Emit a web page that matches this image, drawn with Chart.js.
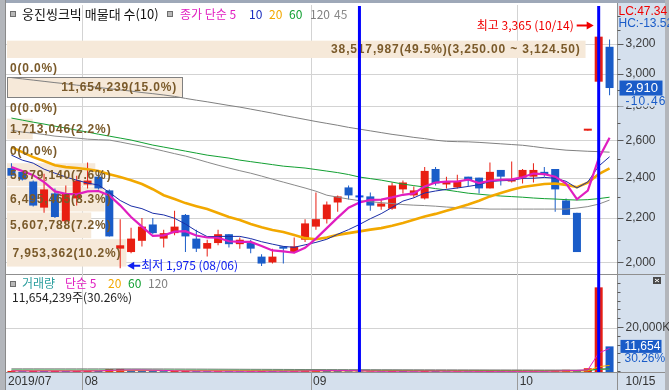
<!DOCTYPE html>
<html>
<head>
<meta charset="utf-8">
<style>html,body{margin:0;padding:0;background:#fff}canvas{display:block}</style>
<script src="https://cdn.jsdelivr.net/npm/chart.js@4.4.1/dist/chart.umd.min.js"></script>
</head>
<body>
<canvas id="chart" width="669" height="390" style="width:669px;height:390px"></canvas>
<script>
"use strict";
// trading days shown
const dates = ['2019/07/23','2019/07/24','2019/07/25','2019/07/26','2019/07/29','2019/07/30','2019/07/31',
  '2019/08/01','2019/08/02','2019/08/05','2019/08/06','2019/08/07','2019/08/08','2019/08/09','2019/08/12','2019/08/13','2019/08/14','2019/08/16','2019/08/19','2019/08/20','2019/08/21','2019/08/22','2019/08/23','2019/08/26','2019/08/27','2019/08/28','2019/08/29','2019/08/30',
  '2019/09/02','2019/09/03','2019/09/04','2019/09/05','2019/09/06','2019/09/09','2019/09/10','2019/09/11','2019/09/16','2019/09/17','2019/09/18','2019/09/19','2019/09/20','2019/09/23','2019/09/24','2019/09/25','2019/09/26','2019/09/27','2019/09/30',
  '2019/10/01','2019/10/02','2019/10/04','2019/10/07','2019/10/08','2019/10/10','2019/10/11','2019/10/14','2019/10/15'];

const openP = [2450,2430,2380,2250,2320,2185,2295,2365,2405,2335, 2060,2045,2095,2170,2105,2130,2215,2105,2060,2085,
  2125,2080,2085,2025,2000,2070,2045,2100,2160,2195, 2275,2350,2310,2305,2255,2245,2340,2310,2295,2445,
  2365,2350,2405,2400,2345,2440,2380,2400,2405,2430, 2445,2285,2225,2655,2950,3180];
const highP = [2475,2440,2385,2420,2345,2360,2410,2480,2430,2340, 2195,2155,2200,2200,2145,2235,2220,2145,2100,2145,
  2125,2110,2100,2035,2060,2070,2110,2195,2325,2280, 2310,2360,2315,2325,2290,2375,2385,2355,2455,2455,
  2405,2415,2405,2400,2480,2440,2485,2445,2475,2455, 2445,2295,2225,2655,3365,3230];
const lowP = [2400,2385,2255,2225,2200,2175,2260,2345,2340,2115, 1975,2040,2070,2125,2065,2120,2045,2045,2025,2075,
  2065,2060,2040,1985,1995,1995,2040,2090,2145,2175, 2230,2290,2295,2235,2240,2240,2320,2300,2290,2360,
  2345,2345,2355,2320,2345,2360,2375,2370,2375,2405, 2230,2215,2045,2655,2930,2865];
const closeP = [2410,2390,2260,2340,2205,2320,2385,2385,2345,2115, 2075,2105,2160,2130,2130,2160,2115,2060,2085,2125,
  2080,2100,2060,1995,2025,2060,2070,2175,2195,2265, 2305,2310,2300,2260,2270,2360,2375,2335,2435,2370,
  2380,2380,2385,2345,2430,2405,2390,2440,2440,2415, 2340,2215,2045,2655,3250,2910];

// moving averages of close
const ma5 = [2455,2434,2413,2377,2330,2318,2315,2330,2332,2310, 2261,2205,2160,2117,2120,2137,2139,2119,2110,2109,
  2093,2090,2090,2072,2052,2048,2042,2064,2105,2153, 2202,2250,2275,2288,2289,2300,2313,2320,2355,2375,
  2379,2380,2390,2372,2384,2389,2391,2402,2421,2418, 2405,2370,2291,2334,2501,2615];
const ma10 = [2519,2492,2476,2444,2423,2403,2387,2372,2362,2325, 2285,2258,2245,2223,2215,2199,2172,2140,2114,2115,
  2115,2115,2105,2091,2080,2070,2066,2077,2088,2102, 2125,2146,2170,2197,2221,2251,2282,2298,2322,2332,
  2340,2347,2355,2364,2380,2384,2386,2396,2397,2401, 2397,2381,2347,2378,2460,2510];
const ma20 = [2563,2535,2508,2487,2465,2455,2450,2444,2434,2418, 2403,2387,2367,2341,2311,2292,2272,2257,2243,2224,
  2205,2191,2172,2157,2144,2135,2121,2107,2102,2110, 2122,2130,2138,2146,2153,2164,2177,2192,2208,2220,
  2235,2250,2265,2284,2305,2322,2338,2352,2360,2367, 2370,2363,2351,2374,2418,2448];
const ma60 = [2728,2716,2704,2693,2681,2670,2658,2647,2635,2624, 2613,2602,2588,2574,2563,2552,2541,2530,2519,2511,
  2503,2492,2484,2476,2468,2460,2455,2450,2442,2434, 2426,2416,2403,2395,2387,2377,2367,2359,2352,2344,
  2337,2329,2321,2316,2311,2307,2304,2301,2297,2294, 2292,2289,2287,2289,2294,2301];
const ma45 = [2658,2647,2641,2633,2624,2619,2613,2607,2604,2602, 2591,2579,2568,2555,2541,2527,2514,2498,2481,2465,
  2450,2436,2423,2408,2392,2377,2362,2347,2331,2311, 2301,2292,2284,2279,2274,2270,2265,2262,2260,2257,
  2253,2250,2248,2245,2243,2243,2243,2243,2243,2243, 2243,2243,2248,2255,2267,2287];
const ma120 = [2976,2968,2960,2952,2944,2937,2928,2922,2913,2906, 2898,2891,2882,2875,2867,2858,2846,2835,2825,2814,
  2803,2793,2781,2769,2757,2744,2732,2720,2708,2697, 2686,2674,2664,2654,2644,2634,2626,2617,2610,2601,
  2595,2593,2592,2589,2585,2581,2577,2573,2566,2558, 2552,2546,2543,2540,2538,2535];

// volume (shares) and its moving averages
const volume = [500000,380000,450000,420000,500000,400000,500000,600000,500000,1300000,
  1400000,700000,650000,480000,400000,450000,450000,380000,350000,360000,
  330000,300000,320000,420000,380000,330000,380000,700000,1050000,650000,
  450000,380000,300000,300000,280000,500000,450000,300000,520000,420000,
  300000,300000,280000,280000,450000,350000,300000,320000,330000,300000,
  900000,1000000,900000,1713046,38517987,11654239];
const vma5 = [520000,480000,450000,440000,450000,430000,454000,484000,500000,700000,
  860000,900000,910000,806000,726000,536000,486000,422000,406000,398000,
  374000,344000,332000,346000,350000,350000,366000,442000,572000,622000,
  646000,646000,566000,416000,342000,352000,366000,366000,410000,438000,
  398000,368000,364000,320000,322000,332000,332000,340000,350000,330000,
  440000,570000,690000,963000,8606000,10757000];
const vma20 = [560000,555000,550000,545000,540000,535000,530000,530000,530000,560000,
  590000,600000,600000,595000,590000,585000,580000,575000,570000,565000,
  560000,550000,520000,505000,490000,475000,465000,470000,485000,490000,
  480000,470000,460000,455000,450000,455000,460000,455000,460000,460000,
  455000,440000,420000,400000,395000,395000,395000,390000,385000,380000,
  400000,430000,450000,520000,2420000,2990000];
const vma60 = [880000,875000,870000,865000,860000,855000,850000,848000,846000,850000,
  860000,858000,855000,850000,845000,840000,835000,828000,820000,812000,
  805000,798000,790000,782000,775000,768000,760000,755000,750000,745000,
  738000,730000,722000,715000,708000,700000,695000,690000,684000,678000,
  672000,665000,658000,650000,645000,640000,634000,628000,622000,616000,
  620000,628000,634000,660000,1290000,1470000];
const vma120 = [1450000,1448000,1445000,1442000,1440000,1436000,1432000,1428000,1424000,1420000,
  1415000,1410000,1405000,1400000,1390000,1370000,1350000,1330000,1310000,1290000,
  1270000,1250000,1230000,1210000,1190000,1170000,1150000,1130000,1115000,1100000,
  1090000,1080000,1070000,1060000,1050000,1040000,1030000,1020000,1010000,1000000,
  990000,980000,970000,960000,950000,940000,930000,920000,910000,900000,
  900000,900000,900000,910000,1220000,1310000];

// volume profile (매물대), 10 bands from lowest to highest close
const bandEdges = [1995, 2120.5, 2246, 2371.5, 2497, 2622.5, 2748, 2873.5, 2999, 3124.5, 3250];
const bandVolume = [7953362, 5607788, 6495465, 5879140, 0, 1713046, 0, 11654239, 0, 38517987];

const priceTicks = [2000, 2200, 2400, 2600, 2800, 3000, 3200];
const volumeTicks = [20000000];
const markedDates = ['2019/09/06', '2019/10/14'];

const RED = '#e81e12', BLUE = '#1a5cc8';
const C5 = '#e01ec0', C10 = '#1a2ea8', C20 = '#f2a800', C60 = '#12a032', C120 = '#808080', C45 = '#8a8a8a';
const PANEL = '#d5e0ed', GRID = '#d3d3d3', SEP = '#8f8f8f', BAND = '#f6e9d9', BANDTXT = '#7a5a2a';
const KR = '"Noto Sans CJK KR", sans-serif';
const NUM = '"Liberation Sans", Arial, sans-serif';

function fmt(n, d) {
  return n.toLocaleString('en-US', {minimumFractionDigits: d || 0, maximumFractionDigits: d || 0});
}
function text(ctx, s, x, y, font, color, align, spacing) {
  ctx.font = font;
  ctx.fillStyle = color;
  ctx.textAlign = align || 'left';
  ctx.textBaseline = 'middle';
  ctx.letterSpacing = spacing || '0px';
  ctx.fillText(s, x, y);
  ctx.letterSpacing = '0px';
}
function hline(ctx, x1, x2, y, color) {
  ctx.strokeStyle = color; ctx.lineWidth = 1;
  ctx.beginPath(); ctx.moveTo(x1, Math.round(y) + 0.5); ctx.lineTo(x2, Math.round(y) + 0.5); ctx.stroke();
}
function vline(ctx, x, y1, y2, color, w) {
  ctx.strokeStyle = color; ctx.lineWidth = w || 1;
  ctx.beginPath(); ctx.moveTo(x, y1); ctx.lineTo(x, y2); ctx.stroke();
}
function box(ctx, x, y) {
  ctx.fillStyle = '#b8b8b8'; ctx.fillRect(x, y, 5, 5);
  ctx.strokeStyle = '#6e6e6e'; ctx.lineWidth = 1; ctx.strokeRect(x + 0.5, y + 0.5, 5, 5);
}

const PRICE_BOTTOM = 273.5;
const BAND_SHIFT = 3;

const htsPlugin = {
  id: 'hts',
  beforeDraw(chart) {
    const {ctx, chartArea: a, width: W, height: H} = chart;
    ctx.save();
    ctx.fillStyle = '#fff'; ctx.fillRect(0, 0, W, H);
    ctx.fillStyle = PANEL;
    ctx.fillRect(a.right + 2, 0, W - a.right - 2, H);
    ctx.fillRect(0, a.bottom, W, H - a.bottom);
    // frame
    ctx.fillStyle = '#9ea8b8'; ctx.fillRect(0, 0, W, 3);
    ctx.fillStyle = '#b3b6bb'; ctx.fillRect(0, 0, 5, H);
    ctx.fillRect(W - 4, 0, 4, H);
    vline(ctx, 5.5, 0, H, '#8a8a8a');
    vline(ctx, a.right + 2.5, 3, H, SEP);
    hline(ctx, 5, W - 4, PRICE_BOTTOM, SEP);
    hline(ctx, 5, W - 4, a.bottom, SEP);
    ctx.restore();
  },
  beforeDatasetsDraw(chart) {
    const {ctx, chartArea: a} = chart;
    const xs = chart.scales.x, ys = chart.scales.y, yv = chart.scales.yv;
    const half = (xs.getPixelForValue(1) - xs.getPixelForValue(0)) / 2;
    ctx.save();
    priceTicks.forEach(v => hline(ctx, a.left, a.right + 2, ys.getPixelForValue(v), GRID));
    volumeTicks.forEach(v => hline(ctx, a.left, a.right + 2, yv.getPixelForValue(v), GRID));
    dates.forEach((d, i) => {
      if (i > 0 && d.slice(5, 7) !== dates[i - 1].slice(5, 7)) {
        const x = Math.round(xs.getPixelForValue(i) - half) + 0.5;
        vline(ctx, x, a.top, a.bottom, GRID);
        vline(ctx, x, a.bottom, chart.height, '#9a9a9a');
      }
    });
    // volume profile bands
    const maxBand = Math.max(...bandVolume);
    ctx.fillStyle = BAND;
    bandVolume.forEach((v, k) => {
      if (!v) return;
      const yt = ys.getPixelForValue(bandEdges[k + 1]) + BAND_SHIFT;
      const yb = ys.getPixelForValue(bandEdges[k]) + BAND_SHIFT;
      const w = v / maxBand * (a.right - a.left) * 0.95;
      ctx.fillRect(a.left + 1, yt + 1, w, yb - yt - 1);
    });
    ctx.restore();
  },
  afterDatasetsDraw(chart) {
    const {ctx, chartArea: a, width: W} = chart;
    const xs = chart.scales.x, ys = chart.scales.y, yv = chart.scales.yv;
    const last = dates.length - 1;
    const cur = closeP[last];
    ctx.save();

    // band labels
    const maxBand = Math.max(...bandVolume);
    const total = bandVolume.reduce((s, v) => s + v, 0);
    bandVolume.forEach((v, k) => {
      const yt = ys.getPixelForValue(bandEdges[k + 1]) + BAND_SHIFT;
      const yb = ys.getPixelForValue(bandEdges[k]) + BAND_SHIFT;
      const w = v / maxBand * (a.right - a.left) * 0.95;
      let s = fmt(v) + '(' + (v / total * 100).toFixed(1) + '%)';
      if (v === maxBand) s += '(' + fmt(bandEdges[k + 1], 2) + ' ~ ' + fmt(bandEdges[k], 2) + ')';
      if (cur >= bandEdges[k] && cur < bandEdges[k + 1]) {
        ctx.strokeStyle = '#808080'; ctx.lineWidth = 1;
        ctx.strokeRect(a.left + 1.5, Math.round(yt) + 0.5, Math.round(w), Math.round(yb - yt));
      }
      ctx.font = 'bold 12px ' + NUM;
      ctx.letterSpacing = '0.85px';
      const tw = ctx.measureText(s).width;
      const xe = Math.max(a.left + w - 4, a.left + 4 + tw);
      text(ctx, s, xe, (yt + yb) / 2 + 1, 'bold 12px ' + NUM, BANDTXT, 'right', '0.85px');
    });

    // legends
    box(ctx, 10, 11);
    text(ctx, '웅진씽크빅 매물대 수(10)', 22, 14, '13px ' + KR, '#111');
    box(ctx, 167, 11);
    text(ctx, '종가 단순 5', 180, 14, '12px ' + KR, C5);
    text(ctx, '10', 249, 14, '12px ' + KR, '#1a2ec0');
    text(ctx, '20', 269, 14, '12px ' + KR, C20);
    text(ctx, '60', 289, 14, '12px ' + KR, C60);
    text(ctx, '120', 310, 14, '12px ' + KR, C120);
    text(ctx, '45', 334, 14, '12px ' + KR, C45);

    box(ctx, 10, 281);
    text(ctx, '거래량', 22, 283, '12px ' + KR, '#2a9d9d');
    text(ctx, '단순 5', 65, 283, '12px ' + KR, C5);
    text(ctx, '20', 108, 283, '12px ' + KR, C20);
    text(ctx, '60', 128, 283, '12px ' + KR, C60);
    text(ctx, '120', 148, 283, '12px ' + KR, C120);
    const vPct = volume[last] / volume[last - 1] * 100;
    text(ctx, fmt(volume[last]) + '주(' + vPct.toFixed(2) + '%)', 12, 297, '12px ' + KR, '#222');

    // high / low marks
    let iH = 0, iL = 0;
    highP.forEach((v, i) => { if (v > highP[iH]) iH = i; });
    lowP.forEach((v, i) => { if (v < lowP[iL]) iL = i; });
    const xH = xs.getPixelForValue(iH), yH = ys.getPixelForValue(highP[iH]) + 5;
    const tipH = xH - 5;
    ctx.strokeStyle = '#f00000'; ctx.fillStyle = '#f00000'; ctx.lineWidth = 2;
    ctx.beginPath(); ctx.moveTo(tipH - 17, yH); ctx.lineTo(tipH - 5, yH); ctx.stroke();
    ctx.beginPath(); ctx.moveTo(tipH, yH); ctx.lineTo(tipH - 7, yH - 4); ctx.lineTo(tipH - 7, yH + 4); ctx.closePath(); ctx.fill();
    text(ctx, '최고 ' + fmt(highP[iH]) + ' (' + dates[iH].slice(5) + ')', tipH - 20, yH, '12px ' + KR, '#f00000', 'right');

    const xL = xs.getPixelForValue(iL), yL = ys.getPixelForValue(lowP[iL]) - 2.5;
    const tipL = xL + 7;
    ctx.strokeStyle = '#1020f0'; ctx.fillStyle = '#1020f0'; ctx.lineWidth = 2;
    ctx.beginPath(); ctx.moveTo(tipL + 5, yL); ctx.lineTo(tipL + 13, yL); ctx.stroke();
    ctx.beginPath(); ctx.moveTo(tipL, yL); ctx.lineTo(tipL + 7, yL - 4); ctx.lineTo(tipL + 7, yL + 4); ctx.closePath(); ctx.fill();
    text(ctx, '최저 ' + fmt(lowP[iL]) + ' (' + dates[iL].slice(5) + ')', tipL + 14, yL, '12px ' + KR, '#1020f0');

    // right price axis
    const ax = a.right + 2.5;
    ctx.strokeStyle = '#5a5a5a'; ctx.lineWidth = 1;
    for (let v = 1600; v <= 3400; v += 100) {
      const y = Math.round(ys.getPixelForValue(v)) + 0.5;
      if (y < a.top + 2 || y > PRICE_BOTTOM - 2) continue;
      const major = priceTicks.includes(v);
      ctx.beginPath(); ctx.moveTo(ax, y); ctx.lineTo(ax + (major ? 6 : 3), y); ctx.stroke();
    }
    priceTicks.forEach(v => text(ctx, fmt(v), ax + 8, ys.getPixelForValue(v), '12px ' + NUM, '#3a3a3a'));
    const yCur = ys.getPixelForValue(cur);
    const chg = (cur - closeP[last - 1]) / closeP[last - 1] * 100;
    ctx.fillStyle = PANEL; ctx.fillRect(ax + 1, yCur + 7.5, W - ax - 5, 11);
    text(ctx, chg.toFixed(2), ax + 8, yCur + 13.5, '12px ' + NUM, BLUE, 'left', '1.2px');
    ctx.fillStyle = BLUE; ctx.fillRect(ax + 2, yCur - 7.5, 43, 15);
    text(ctx, fmt(cur), ax + 8, yCur, '13px ' + NUM, '#fff');
    const minLow = Math.min(...lowP), maxHigh = Math.max(...highP);
    text(ctx, 'LC:' + ((cur - minLow) / minLow * 100).toFixed(2), ax + 1, 12, '12px ' + NUM, '#f00000');
    text(ctx, 'HC:' + ((cur - maxHigh) / maxHigh * 100).toFixed(2), ax + 1, 24, '12px ' + NUM, BLUE);

    // right volume axis
    for (let v = 0; v <= 40000000; v += 4000000) {
      const y = Math.round(yv.getPixelForValue(v)) - 0.5;
      if (y < PRICE_BOTTOM + 3) continue;
      const major = volumeTicks.includes(v);
      ctx.beginPath(); ctx.moveTo(ax, y); ctx.lineTo(ax + (major ? 6 : 3), y); ctx.stroke();
    }
    volumeTicks.forEach(v => text(ctx, fmt(v / 1000) + 'K', ax + 8, yv.getPixelForValue(v), '12px ' + NUM, '#3a3a3a'));
    const yVol = yv.getPixelForValue(volume[last]);
    ctx.fillStyle = BLUE; ctx.fillRect(ax + 3, yVol - 6.5, 41, 13);
    text(ctx, fmt(Math.round(volume[last] / 1000)), ax + 7, yVol, '12px ' + NUM, '#fff');
    text(ctx, vPct.toFixed(2) + '%', ax + 7, yVol + 12, '12px ' + NUM, BLUE);
    // panel close icon
    ctx.fillStyle = '#4a4a4a'; ctx.fillRect(W - 16, 277, 8, 7);
    ctx.strokeStyle = '#fff'; ctx.lineWidth = 1;
    ctx.beginPath(); ctx.moveTo(W - 14, 279); ctx.lineTo(W - 10, 282); ctx.moveTo(W - 10, 279); ctx.lineTo(W - 14, 282); ctx.stroke();

    // date axis
    const half = (xs.getPixelForValue(1) - xs.getPixelForValue(0)) / 2;
    const yd = a.bottom + 9.5;
    dates.forEach((d, i) => {
      if (i === 0) text(ctx, d.slice(0, 7), xs.getPixelForValue(i) - half + 2, yd, '12px ' + NUM, '#333');
      else if (d.slice(5, 7) !== dates[i - 1].slice(5, 7)) text(ctx, d.slice(5, 7), xs.getPixelForValue(i) - half + 2.5, yd, '12px ' + NUM, '#333');
    });
    text(ctx, dates[last].slice(5), ax + 8, yd, '12px ' + NUM, '#333');

    // marked days
    markedDates.forEach(d => {
      const x = xs.getPixelForValue(dates.indexOf(d));
      vline(ctx, x, a.top + 1, a.bottom, '#0000ff', 3);
    });
    ctx.restore();
  }
};

const candleColor = ctx => closeP[ctx.dataIndex] >= openP[ctx.dataIndex] ? RED : BLUE;
const volColor = ctx => {
  const i = ctx.dataIndex;
  return i === 0 || volume[i] >= volume[i - 1] ? RED : BLUE;
};
const line = (data, color, width, axis, order) => ({
  type: 'line', data, yAxisID: axis, borderColor: color, borderWidth: width,
  pointRadius: 0, tension: 0, fill: false, order
});

new Chart(document.getElementById('chart'), {
  type: 'bar',
  data: {
    labels: dates,
    datasets: [
      line(ma5, C5, 2.2, 'y', 1),
      line(ma10, C10, 1, 'y', 2),
      line(ma20, C20, 2.6, 'y', 3),
      line(ma60, C60, 1, 'y', 4),
      line(ma45, C45, 1, 'y', 5),
      line(ma120, C120, 1, 'y', 6),
      line(vma5, C5, 1, 'yv', 7),
      line(vma20, C20, 1, 'yv', 8),
      line(vma60, C60, 1, 'yv', 9),
      line(vma120, C120, 1, 'yv', 10),
      {
        data: dates.map((d, i) => [openP[i], closeP[i]]), yAxisID: 'y',
        backgroundColor: candleColor, barThickness: 8, minBarLength: 2,
        grouped: false, borderWidth: 0, inflateAmount: 0, order: 20
      },
      {
        data: dates.map((d, i) => [lowP[i], highP[i]]), yAxisID: 'y',
        backgroundColor: candleColor, barThickness: 1, minBarLength: 1,
        grouped: false, borderWidth: 0, inflateAmount: 0, order: 21
      },
      {
        data: volume, yAxisID: 'yv', backgroundColor: volColor, barThickness: 8,
        grouped: false, borderWidth: 0, inflateAmount: 0, order: 22
      }
    ]
  },
  options: {
    responsive: false,
    animation: false,
    devicePixelRatio: 1,
    events: [],
    layout: {padding: {left: 6, right: 54, top: 5, bottom: 18}},
    plugins: {legend: {display: false}, tooltip: {enabled: false}},
    scales: {
      x: {display: false, offset: true},
      y: {type: 'logarithmic', display: false, position: 'right', min: 1580, max: 3479, bounds: 'data'},
      yv: {type: 'linear', display: false, position: 'right', min: 0, max: 167000000}
    }
  },
  plugins: [htsPlugin]
});
</script>
</body>
</html>
